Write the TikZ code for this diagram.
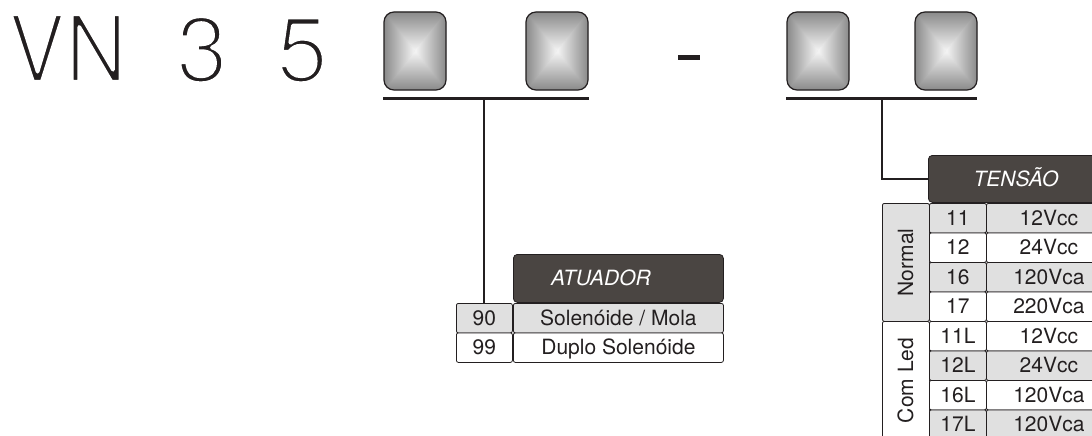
\documentclass[tikz,border=0pt]{standalone}
\usepackage{fontspec}
\setmainfont{TeX Gyre Heros}
\definecolor{ink}{HTML}{231F20}
\definecolor{hdr}{HTML}{4A4542}
\definecolor{lg}{HTML}{E0E0E0}
\definecolor{gedge}{HTML}{8A8A8A}
\definecolor{gmid}{HTML}{F6F6F6}
% thin the glyphs: fill + white stroke of the given width
\newcommand\thintext[2]{\special{pdf:code q 2 Tr #1 w 1 1 1 RG 1 j}#2\special{pdf:code Q}}
\tikzset{
  big/.style={font=\fontsize{93}{93}\selectfont, text=ink, inner sep=0pt, anchor=base west},
  bar/.style={draw=ink, line width=3pt},
  conn/.style={draw=ink, line width=2.4pt},
  cell/.style={draw=ink, line width=0.8pt, rounded corners=2pt, anchor=north west, inner sep=0pt,
    font=\fontsize{21}{21}\selectfont, text=ink, text height=14.5pt, text depth=0pt},
  hdrbox/.style={fill=hdr, draw=ink, line width=0.8pt, rounded corners=4pt},
  hdrtxt/.style={font=\fontsize{21}{21}\selectfont\itshape, text=white, inner sep=0pt,
    text height=14.5pt, text depth=0pt},
  side/.style={font=\fontsize{21}{21}\selectfont, text=ink, inner sep=0pt, rotate=90,
    text height=14.5pt, text depth=0pt},
  gbox/.pic={
    \fill[gedge, rounded corners=10pt] (0,0) rectangle (62,78);
    \begin{scope}
      \clip[rounded corners=10pt] (0,0) rectangle (62,78);
      \shade[top color=gedge, bottom color=gmid] (-0.3,0) -- (62.3,0) -- (31,39.3) -- cycle;
      \shade[top color=gmid, bottom color=gedge] (-0.3,78) -- (62.3,78) -- (31,38.7) -- cycle;
      \shade[left color=gedge, right color=gmid] (0,-0.3) -- (0,78.3) -- (31.3,39) -- cycle;
      \shade[left color=gmid, right color=gedge] (62,-0.3) -- (62,78.3) -- (30.7,39) -- cycle;
    \end{scope}
    \draw[ink, line width=1.2pt, rounded corners=10pt] (0,0) rectangle (62,78);
  }
}
\begin{document}
\begin{tikzpicture}[x=1pt,y=-1pt]
\clip (0,0) rectangle (1092,436);
\fill[white] (0,0) rectangle (1092,436);

% code text
\node[big, xscale=0.92] (vn) at (8,82) {\thintext{4}{VN}};
\node[big] (n3) at (176,82) {\thintext{4}{3}};
\node[big] (n5) at (276,82) {\thintext{4}{5}};
\draw[ink, line width=5pt] (678,58) coordinate (dashL) -- (700,58) coordinate (dashR);

% gradient boxes
\pic (b1) at (384,12) {gbox};
\pic (b2) at (526,12) {gbox};
\pic (b3) at (787,12) {gbox};
\pic (b4) at (915,12) {gbox};

% bars
\coordinate (barAL) at (383,98);
\coordinate (barAR) at (589,98);
\coordinate (barAM) at (484,98);
\coordinate (barBL) at (786,98);
\coordinate (barBR) at (977,98);
\coordinate (barBM) at (882,98);
\draw[bar] (barAL) -- (barAR);
\draw[bar] (barBL) -- (barBR);

% ATUADOR table
\node[hdrbox, anchor=north west, minimum width=210pt, minimum height=48pt, inner sep=0pt] (atuador) at (513,254) {};
\node[hdrtxt] at (601,278) {ATUADOR};
\node[cell, fill=lg, minimum width=56pt, minimum height=29.5pt] (c90) at (456,303) {90};
\node[cell, fill=lg, minimum width=210pt, minimum height=29.5pt] (d90) at (513,303) {Solenóide / Mola};
\node[cell, fill=white, minimum width=56pt, minimum height=29.5pt] (c99) at (456,332.5) {99};
\node[cell, fill=white, minimum width=210pt, minimum height=29.5pt] (d99) at (513,332.5) {Duplo Solenóide};
\draw[conn] (barAM) -- (barAM |- c90.north);

% TENSAO table
\node[hdrbox, anchor=north west, minimum width=200pt, minimum height=47pt, inner sep=0pt] (tensao) at (928,155) {};
\node[hdrtxt] at (1016,179) {TENSÃO};
\draw[conn, line join=miter] (barBM) |- (tensao.west);

\node[cell, fill=lg, minimum width=47pt, minimum height=118pt] (normal) at (882,203) {};
\node[side] at (normal.center) {Normal};
\node[cell, fill=white, minimum width=47pt, minimum height=118pt] (comled) at (882,321) {};
\node[side] at (comled.center) {Com Led};

\foreach \i/\c/\v/\f in {0/11/12Vcc/lg, 1/12/24Vcc/white, 2/16/120Vca/lg, 3/17/220Vca/white,
                          4/11L/12Vcc/white, 5/12L/24Vcc/lg, 6/16L/120Vca/white, 7/17L/120Vca/lg}{
  \node[cell, fill=\f, minimum width=57pt, minimum height=29.5pt] (k\i) at (929,203+29.5*\i) {\c};
  \node[cell, fill=\f, minimum width=125pt, minimum height=29.5pt, text width=108pt, align=center] (v\i) at (986,203+29.5*\i) {\v};
}
\end{tikzpicture}
\end{document}
